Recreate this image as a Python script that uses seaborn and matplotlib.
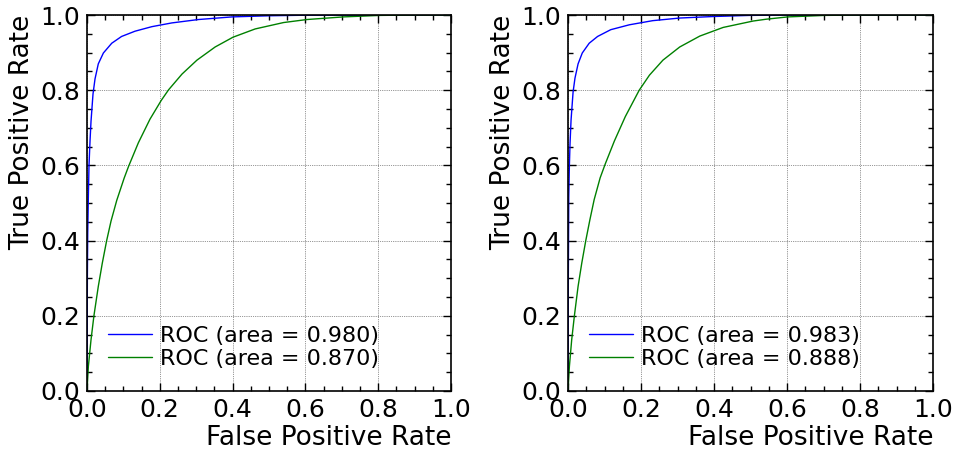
import matplotlib
matplotlib.use("Agg")
import matplotlib.pyplot as plt
import seaborn as sns
import pandas as pd
from matplotlib.ticker import MultipleLocator

# ---- data ----
left_blue_fpr = [0.0, 0.001, 0.002, 0.0037, 0.0055, 0.0083, 0.011, 0.0165, 0.022, 0.031, 0.045, 0.068, 0.095, 0.132, 0.178, 0.233, 0.306, 0.398, 0.499, 0.6, 0.8, 1.0]
left_blue_tpr = [0.0, 0.30, 0.42, 0.516, 0.60, 0.665, 0.717, 0.790, 0.830, 0.870, 0.899, 0.925, 0.943, 0.957, 0.969, 0.979, 0.988, 0.995, 0.998, 0.9995, 1.0, 1.0]
left_green_fpr = [0.0, 0.0037, 0.011, 0.019, 0.031, 0.042, 0.054, 0.066, 0.0817, 0.102, 0.114, 0.141, 0.173, 0.204, 0.224, 0.261, 0.302, 0.352, 0.401, 0.462, 0.540, 0.604, 0.704, 0.805, 0.9, 1.0]
left_green_tpr = [0.0, 0.065, 0.136, 0.20, 0.278, 0.340, 0.40, 0.452, 0.507, 0.566, 0.597, 0.660, 0.723, 0.773, 0.801, 0.843, 0.880, 0.915, 0.941, 0.963, 0.980, 0.988, 0.995, 0.999, 1.0, 1.0]

right_blue_fpr = [0.0, 0.0008, 0.002, 0.0037, 0.0055, 0.0083, 0.0138, 0.019, 0.0275, 0.039, 0.058, 0.081, 0.117, 0.168, 0.232, 0.306, 0.397, 0.498, 0.6, 0.8, 1.0]
right_blue_tpr = [0.0, 0.30, 0.516, 0.60, 0.659, 0.721, 0.795, 0.832, 0.870, 0.899, 0.925, 0.943, 0.961, 0.974, 0.985, 0.992, 0.996, 0.999, 1.0, 1.0, 1.0]
right_green_fpr = [0.0, 0.0037, 0.010, 0.0174, 0.0275, 0.0376, 0.0486, 0.060, 0.0716, 0.088, 0.102, 0.127, 0.157, 0.195, 0.223, 0.260, 0.306, 0.361, 0.425, 0.507, 0.544, 0.602, 0.703, 0.8, 1.0]
right_green_tpr = [0.0, 0.065, 0.136, 0.20, 0.278, 0.340, 0.40, 0.456, 0.509, 0.567, 0.604, 0.665, 0.730, 0.80, 0.840, 0.880, 0.915, 0.944, 0.967, 0.984, 0.989, 0.995, 0.999, 1.0, 1.0]

left_labels = ["ROC (area = 0.980)", "ROC (area = 0.870)"]
right_labels = ["ROC (area = 0.983)", "ROC (area = 0.888)"]
tick_values = [0.0, 0.2, 0.4, 0.6, 0.8, 1.0]
tick_labels = ["0.0", "0.2", "0.4", "0.6", "0.8", "1.0"]
xlabel = "False Positive Rate"
ylabel = "True Positive Rate"

sns.set_style("ticks")
plt.rcParams["font.family"] = ["DejaVu Sans"]
plt.rcParams.update({
    "text.color": "black",
    "axes.labelcolor": "black",
    "xtick.color": "black",
    "ytick.color": "black",
    "xtick.labelcolor": "black",
    "ytick.labelcolor": "black",
})

fig = plt.figure(figsize=(9.55, 4.58), dpi=100)
ax1 = fig.add_axes([0.0911, 0.1463, 0.3812, 0.8209])
ax2 = fig.add_axes([0.5948, 0.1463, 0.3822, 0.8209])

panels = [
    (ax1, left_blue_fpr, left_blue_tpr, left_green_fpr, left_green_tpr, left_labels),
    (ax2, right_blue_fpr, right_blue_tpr, right_green_fpr, right_green_tpr, right_labels),
]

for ax, bf, bt, gf, gt, labels in panels:
    df_b = pd.DataFrame({"fpr": bf, "tpr": bt})
    df_g = pd.DataFrame({"fpr": gf, "tpr": gt})
    sns.lineplot(data=df_b, x="fpr", y="tpr", ax=ax, color="#0000ff", lw=1,
                 estimator=None, sort=False, label=labels[0])
    sns.lineplot(data=df_g, x="fpr", y="tpr", ax=ax, color="#008000", lw=1,
                 estimator=None, sort=False, label=labels[1])
    ax.set_xlim(0, 1)
    ax.set_ylim(0, 1)
    ax.set_xticks(tick_values)
    ax.set_xticklabels(tick_labels)
    ax.set_yticks(tick_values)
    ax.set_yticklabels(tick_labels)
    ax.xaxis.set_minor_locator(MultipleLocator(0.05))
    ax.yaxis.set_minor_locator(MultipleLocator(0.05))
    ax.tick_params(which="both", direction="in", top=True, right=True,
                   color="black", width=1)
    ax.tick_params(which="major", length=6, labelsize=18, pad=5, labelcolor="black")
    ax.tick_params(which="minor", length=3.5)
    ax.grid(True, which="major", linestyle=":", color="black", linewidth=0.5, alpha=0.8)
    for s in ax.spines.values():
        s.set_color("black")
        s.set_linewidth(1.2)
        s.set_visible(True)
    ax.set_xlabel(xlabel, fontsize=19, loc="right", labelpad=2, color="black")
    ax.set_ylabel(ylabel, fontsize=19, loc="top", labelpad=4, color="black")
    leg = ax.legend(loc="lower left", bbox_to_anchor=(0.032, 0.035), borderaxespad=0,
                    frameon=False, fontsize=16, handlelength=2.0, labelspacing=0.15,
                    handletextpad=0.35)
    for t in leg.get_texts():
        t.set_color("black")

fig.savefig("out.png", dpi=100)
